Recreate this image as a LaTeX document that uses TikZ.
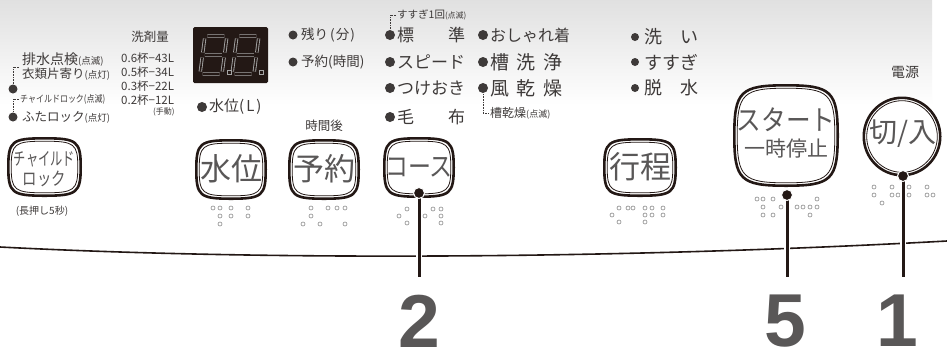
\documentclass[tikz,border=0pt]{standalone}
\usepackage{fontspec}
\usepackage{graphicx}
\setmainfont{Noto Sans CJK JP}
\newfontfamily\numfont{Liberation Sans}
\definecolor{txt}{HTML}{595757}
\definecolor{lbl}{HTML}{3E3A39}
\definecolor{ink}{HTML}{231815}
\definecolor{segc}{HTML}{A5A5A5}
\definecolor{brl}{HTML}{8A8A8A}
\newcommand\fsz[1]{\fontsize{#1pt}{#1pt}\selectfont}
\newcommand\sqpath[3]{({#1},0) .. controls ({#1},{#3*(#2)}) and ({#3*(#1)},{#2}) .. (0,{#2}) .. controls ({-#3*(#1)},{#2}) and ({-(#1)},{#3*(#2)}) .. ({-(#1)},0) .. controls ({-(#1)},{-#3*(#2)}) and ({-#3*(#1)},{-(#2)}) .. (0,{-(#2)}) .. controls ({#3*(#1)},{-(#2)}) and ({#1},{-#3*(#2)}) .. cycle}
% x, y, half width, half height, k
\newcommand\btnshape[5]{\begin{scope}[shift={(#1,#2)}]
 \draw[ink, fill=white, line width=2.6pt] \sqpath{#3-1.3}{#4-1.3}{#5};
 \draw[ink, line width=0.8pt] \sqpath{#3-4.2}{#4-4.2}{#5};
\end{scope}}
\newcommand\sevenseg[2]{\begin{scope}[shift={(#1,#2)}, xslant=0.13]
 \draw[segs] (2.5,-38)--(19.5,-38) (22,-35.5)--(22,-21.5) (22,-16.5)--(22,-2.5) (2.5,0)--(19.5,0) (0,-16.5)--(0,-2.5) (0,-35.5)--(0,-21.5) (2.5,-19)--(19.5,-19);
\end{scope}}
\tikzset{
 segs/.style={draw=segc, double=ink, double distance=1.6pt, line width=0.9pt, line cap=butt},
 lab/.style={anchor=west, text=lbl, inner sep=0pt},
 btntxt/.style={text=txt, inner sep=0pt},
 bigno/.style={font=\numfont\bfseries\fsz{75}, text=txt, inner sep=0pt},
 leader/.style={ink, line width=3pt},
 halo/.style={white, line width=6pt},
 dotline/.style={lbl, line width=0.6pt, densely dotted},
 bdot/.style={fill=white, draw=brl, line width=0.6pt},
}
\newcommand\bul[3]{\fill[lbl] (#1,#2) circle (#3);}
\begin{document}
\begin{tikzpicture}[x=1pt, y=-1pt]
\useasboundingbox (0,0) rectangle (947,360);
\fill[white] (0,0) rectangle (947,360);
\shade[top color=black!12, bottom color=white] (0,0) rectangle (932,105);

% panel edge
\draw[ink, line width=1.6pt] (0,247) .. controls (250,260) and (600,260) .. (947,241);

% left labels
\node[lab, font=\fsz{14}] (haisui) at (22,60) {排水点検{\fsz{9.5}(点滅)}};
\node[lab, font=\fsz{12.5}] (irui) at (22,74) {衣類片寄り{\fsz{9.5}(点灯)}};
\node[lab, font=\fsz{9.5}] (child) at (20,99) {\scalebox{0.84}[1]{チャイルドロック(点滅)}};
\node[lab, font=\fsz{12.5}] (futa) at (22,117) {ふたロック{\fsz{9.5}(点灯)}};
\bul{13}{89}{4.5}
\bul{13}{117}{4.5}
\draw[dotline] (19,67) -- (13,67) -- (13,84);
\draw[dotline] (19,99) -- (13,99) -- (13,112);

% detergent table
\node[text=lbl, font=\fsz{12.5}] (senzai) at (150,37) {洗剤量};
\node[lab, font=\fsz{11.5}] (r1) at (121,58) {0.6杯−43L};
\node[lab, font=\fsz{11.5}] (r2) at (121,72) {0.5杯−34L};
\node[lab, font=\fsz{11.5}] (r3) at (121,86) {0.3杯−22L};
\node[lab, font=\fsz{11.5}] (r4) at (121,100) {0.2杯−12L};
\node[anchor=east, text=lbl, font=\fsz{8}] (shudo) at (178,112) {(手動)};

% display
\node[fill=ink, minimum width=75pt, minimum height=56pt, rounded corners=1.5pt] (disp) at (230.5,55) {};
\sevenseg{200}{74}
\sevenseg{232}{74}
\draw[segc, fill=ink, line width=0.9pt] (227.5,70.5) rectangle (231,74);
\draw[segc, fill=ink, line width=0.9pt] (259.5,70.5) rectangle (263,74);
\bul{202}{107}{5}
\node[lab, font=\fsz{15}] (suiiL) at (209,107) {水位(\hspace{2pt}L\hspace{2pt})};

% middle labels
\bul{293}{35}{4.5}
\node[lab, font=\fsz{13.5}] (nokori) at (301,35) {残り\hspace{2pt}(\hspace{1pt}分\hspace{1pt})};
\bul{293}{62}{4.5}
\node[lab, font=\fsz{13.5}] (yoyakuj) at (301,62) {予約(時間)};
\node[btntxt, text=lbl, font=\fsz{12.5}] (jikango) at (324,126) {時間後};

\node[lab, font=\fsz{10.5}] (susugi1) at (397,15) {すすぎ1回{\fsz{8}(点滅)}};
\draw[dotline] (396,15) -- (390,15) -- (390,29);
\bul{390}{35}{5}
\node[lab, font=\fsz{17}] (hyojun) at (397,35) {標　　準};
\bul{390}{62}{5}
\node[lab, font=\fsz{17}] (speed) at (397,62) {スピード};
\bul{390}{88}{5}
\node[lab, font=\fsz{17}] (tsuke) at (397,88) {つけおき};
\bul{390}{117}{5}
\node[lab, font=\fsz{17}] (moufu) at (397,117) {毛　　布};

\bul{483}{35}{5}
\node[lab, font=\fsz{16}] (oshare) at (490,35) {おしゃれ着};
\bul{483}{62}{5}
\node[lab, font=\fsz{19}] (sousen) at (490,62) {槽\hspace{0.4em}洗\hspace{0.4em}浄};
\bul{483}{88}{5}
\node[lab, font=\fsz{19}] (fuukan) at (490,88) {風\hspace{0.4em}乾\hspace{0.4em}燥};
\draw[dotline] (483,94) -- (483,113) -- (489,113);
\node[lab, font=\fsz{12}] (soukan) at (490,113) {槽乾燥{\fsz{9}(点滅)}};

\bul{635}{37}{4}
\node[lab, font=\fsz{18}] (arai) at (644,37) {洗　い};
\bul{635}{62}{4}
\node[lab, font=\fsz{18}] (susugi) at (644,62) {すすぎ};
\bul{635}{88}{4}
\node[lab, font=\fsz{18}] (dassui) at (644,88) {脱　水};

\node[btntxt, text=lbl, font=\fsz{14}] (dengen) at (905,72) {電源};

% buttons
\btnshape{44.5}{167}{37.5}{30}{0.9}
\btnshape{231}{169.5}{36}{30.5}{0.9}
\btnshape{324}{169.5}{36}{30.5}{0.9}
\btnshape{419}{167.5}{36}{30.5}{0.9}
\btnshape{640}{167.5}{37}{29.5}{0.9}
\btnshape{786}{135.5}{53}{51.5}{0.88}
\btnshape{902}{136.5}{39.5}{40}{0.552}

\node[btntxt, font=\fsz{18}] (bchild) at (44.5,159) {\scalebox{0.68}[1]{チャイルド}};
\node[btntxt, font=\fsz{18}] (block) at (44.5,179) {\scalebox{0.8}[1]{ロック}};
\node[btntxt, text=lbl, font=\fsz{10}] (nagaoshi) at (42,211) {(長押し5秒)};
\node[btntxt, font=\fsz{31}] (bsuii) at (231,169) {水位};
\node[btntxt, font=\fsz{31}] (byoyaku) at (324,169) {予約};
\node[btntxt, font=\fsz{27}] (bcourse) at (419,167) {\scalebox{0.85}[1]{コース}};
\node[btntxt, font=\fsz{31}] (bkoutei) at (640,167) {行程};
\node[btntxt, font=\fsz{28}] (bstart) at (786,120) {\scalebox{0.88}[1]{スタート}};
\node[btntxt, font=\fsz{21}] (bpause) at (786,149) {一時停止};
\node[btntxt, font=\fsz{28}] (bpower) at (903,134) {切/入};

% braille
\foreach \x/\y in {213/208,220/208,231/208,248/208,220/216,231/216,248/216,220/224,
  311/208,328/208,337/208,345/208,311/216,303/224,320/224,345/224,
  407/209,433/209,441/209,399/216,425/216,441/216,407/223,441/223,
  619/208,628/208,633/208,645/208,652/208,663/208,612/215,645/215,652/215,663/215,619/222,645/222,
  757/199,763/199,773/199,817/199,763/207,781/207,797/207,803/207,810/207,817/207,763/215,773/215,810/215,
  874/187,892/187,909/187,927/187,874/195,892/195,898/195,909/195,927/195,933/195,882/203}
  \draw[bdot] (\x,\y) circle (2);

% numbers and leaders
\node[bigno] (n2) at (419,321) {2};
\node[bigno] (n5) at (785,321) {5};
\node[bigno] (n1) at (897,321) {1};
\coordinate (d2) at (419,193);
\coordinate (d5) at (787,195);
\coordinate (d1) at (903,176);
\coordinate (e2) at (419,277);
\coordinate (e5) at (787,277);
\coordinate (e1) at (903,277);
\draw[halo] (d2) -- (e2);
\draw[halo] (d5) -- (e5);
\draw[halo] (d1) -- (e1);
\draw[leader] (d2) -- (e2);
\draw[leader] (d5) -- (e5);
\draw[leader] (d1) -- (e1);
\fill[ink, draw=white, line width=1pt] (d2) circle (5.5);
\fill[ink, draw=white, line width=1pt] (d5) circle (5.5);
\fill[ink, draw=white, line width=1pt] (d1) circle (5.5);
\end{tikzpicture}
\end{document}
